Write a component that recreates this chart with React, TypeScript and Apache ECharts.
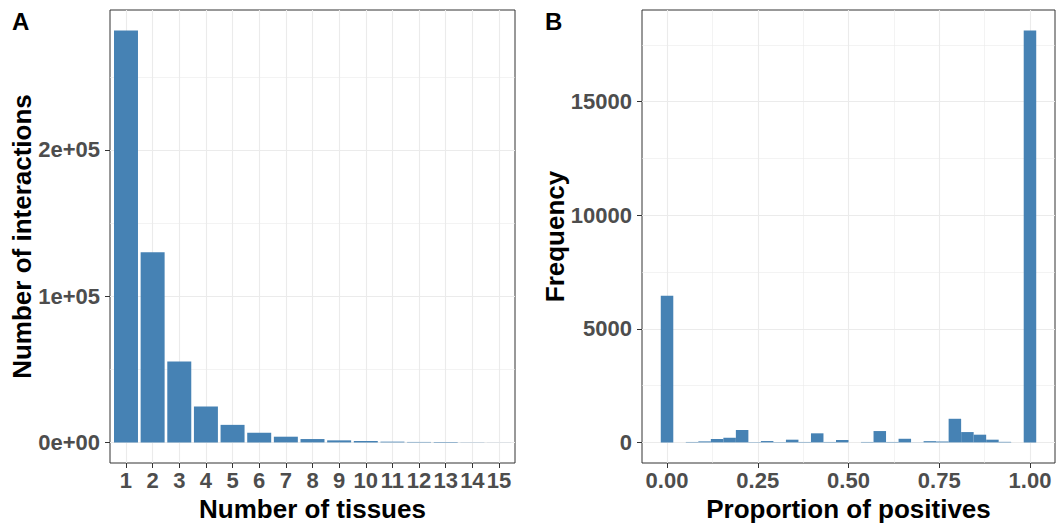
import React, { useEffect, useRef } from "react";
import * as echarts from "echarts";

// ---- Panel A data ----
const tissues = [1, 2, 3, 4, 5, 6, 7, 8, 9, 10, 11, 12, 13, 14, 15];
const tissueTickLabels = ["1", "2", "3", "4", "5", "6", "7", "8", "9", "10", "11", "12", "13", "14", "15"];
const interactionCounts = [281600, 130000, 55300, 24500, 12000, 6600, 3900, 2300, 1400, 950, 520, 320, 200, 120, 50];
const interactionTicks = [0, 100000, 200000];
const interactionTickLabels = ["0e+00", "1e+05", "2e+05"];
const interactionMinorTicks = [50000, 150000, 250000];

// ---- Panel B data (histogram, 30 bins over [0,1]) ----
const proportionBinCounts = [
  6450, 0, 20, 45, 150, 205, 545, 15, 60, 15,
  120, 20, 400, 20, 105, 0, 20, 500, 20, 160,
  5, 55, 40, 1040, 455, 340, 120, 25, 0, 18124,
];
const proportionTicks = [0, 0.25, 0.5, 0.75, 1];
const proportionTickLabels = ["0.00", "0.25", "0.50", "0.75", "1.00"];
const proportionMinorTicks = [0.125, 0.375, 0.625, 0.875];
const frequencyTicks = [0, 5000, 10000, 15000];
const frequencyTickLabels = ["0", "5000", "10000", "15000"];
const frequencyMinorTicks = [2500, 7500, 12500, 17500];

const FONT = "'Liberation Sans', Arial, Helvetica, sans-serif";
const BAR = "#4682B4";
const GRID = "#EBEBEB";
const DARK = "#333333";
const TICKTXT = "#4D4D4D";

function labelFrom(ticks: number[], labels: string[]) {
  return (v: number) => {
    const i = ticks.findIndex((t) => Math.abs(t - v) < 1e-9);
    return i >= 0 ? labels[i] : "";
  };
}

function mainAxis(
  gridIndex: number,
  min: number,
  max: number,
  ticks: number[],
  labels: string[],
  name: string,
  nameGap: number,
  isY: boolean
) {
  return {
    type: "value",
    gridIndex,
    min,
    max,
    position: isY ? "left" : "bottom",
    axisLine: { show: false, onZero: false },
    axisTick: {
      show: true,
      customValues: ticks,
      length: 5,
      lineStyle: { color: DARK, width: 1 },
    },
    axisLabel: {
      customValues: ticks,
      formatter: labelFrom(ticks, labels),
      fontSize: 22,
      fontWeight: "bold",
      color: TICKTXT,
      fontFamily: FONT,
      margin: isY ? 10 : 6,
      hideOverlap: false,
    },
    splitLine: { show: true, lineStyle: { color: GRID, width: 1.1 } },
    name,
    nameLocation: "middle",
    nameGap,
    nameMoveOverlap: false,
    nameTextStyle: { fontSize: 26, fontWeight: "bold", color: "#000", fontFamily: FONT },
  };
}

function minorAxis(gridIndex: number, min: number, max: number, ticks: number[], isY: boolean) {
  return {
    type: "value",
    gridIndex,
    min,
    max,
    position: isY ? "right" : "top",
    axisLine: { show: false, onZero: false },
    axisTick: { show: false, customValues: ticks },
    axisLabel: { show: false, customValues: ticks },
    splitLine: { show: true, lineStyle: { color: GRID, width: 0.6 } },
  };
}

export default function App() {
  const ref = useRef<HTMLDivElement>(null);

  useEffect(() => {
    if (!ref.current) return;
    const chart = echarts.init(ref.current, undefined, { renderer: "svg" });

    // Panel A scales (ggplot-style expansion)
    const aMaxY = Math.max(...interactionCounts);
    const aYMin = -0.05 * aMaxY;
    const aYMax = 1.05 * aMaxY;
    const aXMin = tissues[0] - 0.6;
    const aXMax = tissues[tissues.length - 1] + 0.6;

    // Panel B scales
    const nb = proportionBinCounts.length;
    const binW = 1 / (nb - 1);
    const binCenters = proportionBinCounts.map((_, k) => k * binW);
    const lo = -binW / 2;
    const hi = 1 + binW / 2;
    const span = hi - lo;
    const bXMin = lo - 0.05 * span;
    const bXMax = hi + 0.05 * span;
    const bMaxY = Math.max(...proportionBinCounts);
    const bYMin = -0.05 * bMaxY;
    const bYMax = 1.05 * bMaxY;

    const option: any = {
      animation: false,
      backgroundColor: "#fff",
      textStyle: { fontFamily: FONT },
      grid: [
        {
          left: 110, top: 10, width: 405, height: 453,
          show: true, borderColor: DARK, borderWidth: 1, backgroundColor: "#fff",
          containLabel: false, outerBoundsMode: "none",
        },
        {
          left: 642, top: 10, width: 413, height: 453,
          show: true, borderColor: DARK, borderWidth: 1, backgroundColor: "#fff",
          containLabel: false, outerBoundsMode: "none",
        },
      ],
      xAxis: [
        mainAxis(0, aXMin, aXMax, tissues, tissueTickLabels, "Number of tissues", 33, false),
        mainAxis(1, bXMin, bXMax, proportionTicks, proportionTickLabels, "Proportion of positives", 33, false),
        minorAxis(1, bXMin, bXMax, proportionMinorTicks, false),
      ],
      yAxis: [
        mainAxis(0, aYMin, aYMax, interactionTicks, interactionTickLabels, "Number of interactions", 75, true),
        minorAxis(0, aYMin, aYMax, interactionMinorTicks, true),
        mainAxis(1, bYMin, bYMax, frequencyTicks, frequencyTickLabels, "Frequency", 74, true),
        minorAxis(1, bYMin, bYMax, frequencyMinorTicks, true),
      ],
      series: [
        {
          type: "bar",
          xAxisIndex: 0,
          yAxisIndex: 0,
          barWidth: "90%",
          itemStyle: { color: BAR },
          data: tissues.map((t, i) => [t, interactionCounts[i]]),
        },
        {
          type: "bar",
          xAxisIndex: 1,
          yAxisIndex: 2,
          barWidth: "100%",
          itemStyle: { color: BAR },
          data: binCenters.map((c, i) => [c, proportionBinCounts[i]]),
        },
      ],
      graphic: [
        { type: "text", left: 12, top: 9, style: { text: "A", fontSize: 24, fontWeight: "bold", fill: "#000", fontFamily: FONT } },
        { type: "text", left: 545, top: 9, style: { text: "B", fontSize: 24, fontWeight: "bold", fill: "#000", fontFamily: FONT } },
      ],
    };

    chart.setOption(option);
    return () => chart.dispose();
  }, []);

  return (
    <div
      ref={ref}
      style={{ position: "fixed", left: 0, top: 0, width: 1059, height: 527, background: "#fff" }}
    />
  );
}
